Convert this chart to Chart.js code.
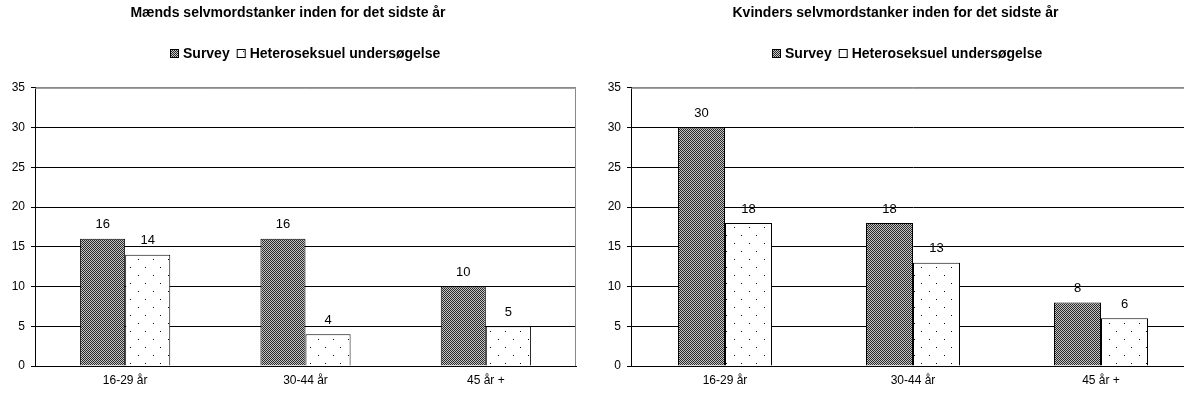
<!DOCTYPE html>
<html>
<head>
<meta charset="utf-8">
<script src="https://cdn.jsdelivr.net/npm/chart.js@4/dist/chart.umd.min.js"></script>
<style>
    html, body { margin: 0; padding: 0; background: #fff; overflow: hidden; }
    .box { position: absolute; top: 0; height: 396px; }
</style>
</head>
<body>
<div class="box" style="left:0; width:588px;"><canvas id="menChart"></canvas></div>
<div class="box" style="left:596px; width:620px;"><canvas id="womenChart"></canvas></div>
<script>
// Chart data
const categories = ['16-29 år', '30-44 år', '45 år +'];
const seriesNames = ['Survey', 'Heteroseksuel undersøgelse'];
const menSurvey = [16, 16, 10];
const menHetero = [14, 4, 5];
const womenSurvey = [30, 18, 8];
const womenHetero = [18, 13, 6];
const yTicks = [0, 5, 10, 15, 20, 25, 30, 35];

const FONT = "'Liberation Sans', Arial, sans-serif";

// Fill patterns for the two series
function checkerPattern() {
    const c = document.createElement('canvas');
    c.width = 2; c.height = 2;
    const g = c.getContext('2d');
    g.fillStyle = '#c4c4c4';
    g.fillRect(0, 0, 2, 2);
    g.fillStyle = '#2a2a2a';
    g.fillRect(0, 0, 1, 1);
    g.fillRect(1, 1, 1, 1);
    return g.createPattern(c, 'repeat');
}

function dotPattern() {
    const c = document.createElement('canvas');
    c.width = 15; c.height = 16;
    const g = c.getContext('2d');
    g.fillStyle = '#fff';
    g.fillRect(0, 0, 15, 16);
    g.fillStyle = '#111';
    g.fillRect(3, 3, 1, 1);
    g.fillRect(10, 11, 1, 1);
    return g.createPattern(c, 'repeat');
}

// Values above bars, frame and legend
const extrasPlugin = {
    id: 'extras',
    beforeDatasetsDraw(chart) {
        const { ctx, chartArea } = chart;
        ctx.save();
        ctx.strokeStyle = '#888';
        ctx.lineWidth = 1;
        ctx.beginPath();
        ctx.moveTo(chartArea.left, chartArea.top + 0.5);
        ctx.lineTo(chartArea.right - 0.5, chartArea.top + 0.5);
        ctx.lineTo(chartArea.right - 0.5, chartArea.bottom);
        ctx.stroke();
        ctx.restore();
    },
    afterDatasetsDraw(chart, args, opts) {
        const { ctx } = chart;
        ctx.save();
        ctx.font = '13px ' + FONT;
        ctx.fillStyle = '#000';
        ctx.textAlign = 'center';
        ctx.textBaseline = 'middle';
        chart.data.datasets.forEach((ds, i) => {
            chart.getDatasetMeta(i).data.forEach((bar, j) => {
                ctx.fillText(ds.data[j], bar.x, bar.y - 14);
            });
        });

        // legend
        ctx.font = 'bold 14px ' + FONT;
        ctx.textAlign = 'left';
        const items = chart.data.datasets.map(ds => ({ ds, w: ctx.measureText(ds.label).width }));
        let total = 0;
        items.forEach((it, i) => { total += 9 + 4 + it.w + (i < items.length - 1 ? 7 : 0); });
        let x = Math.round(opts.legendX - total / 2);
        const y = 53;
        items.forEach(it => {
            ctx.fillStyle = it.ds.backgroundColor;
            ctx.fillRect(x, y - 4, 9, 9);
            ctx.strokeStyle = '#000';
            ctx.lineWidth = 1;
            ctx.strokeRect(x + 0.5, y - 3.5, 8, 8);
            x += 13;
            ctx.fillStyle = '#000';
            ctx.fillText(it.ds.label, x, y + 1);
            x += it.w + 7;
        });
        ctx.restore();
    }
};

function makeChart(id, title, survey, hetero, axisWidth, padRight, legendX) {
    const ctx = document.getElementById(id).getContext('2d');
    return new Chart(ctx, {
        type: 'bar',
        data: {
            labels: categories,
            datasets: [{
                label: seriesNames[0],
                data: survey,
                backgroundColor: checkerPattern(),
                borderColor: '#000',
                borderWidth: 1
            }, {
                label: seriesNames[1],
                data: hetero,
                backgroundColor: dotPattern(),
                borderColor: '#000',
                borderWidth: 1
            }]
        },
        options: {
            responsive: true,
            maintainAspectRatio: false,
            animation: false,
            layout: {
                padding: { left: 0, right: padRight, top: 0, bottom: 8 }
            },
            datasets: {
                bar: { categoryPercentage: 0.5, barPercentage: 1 }
            },
            plugins: {
                legend: { display: false },
                tooltip: { enabled: false },
                title: {
                    display: true,
                    text: title,
                    color: '#000',
                    font: { family: FONT, size: 14, weight: 'bold' },
                    padding: { top: 5, bottom: 66 }
                },
                extras: { legendX: legendX }
            },
            scales: {
                x: {
                    afterFit(scale) { scale.height = 22; },
                    grid: { display: false, drawTicks: false },
                    border: { color: '#000' },
                    ticks: { color: '#000', padding: 7, font: { family: FONT, size: 12 } }
                },
                y: {
                    min: 0,
                    max: 35,
                    afterFit(scale) { scale.width = axisWidth; },
                    afterBuildTicks(scale) { scale.ticks = yTicks.map(v => ({ value: v })); },
                    grid: {
                        color: c => c.tick && c.tick.value === 35 ? '#888' : '#000',
                        tickLength: 4,
                        tickColor: '#000'
                    },
                    border: { color: '#000' },
                    ticks: { color: '#000', padding: 6, font: { family: FONT, size: 12 } }
                }
            }
        },
        plugins: [extrasPlugin]
    });
}

makeChart('menChart', 'Mænds selvmordstanker inden for det sidste år', menSurvey, menHetero, 35, 12, 305);
makeChart('womenChart', 'Kvinders selvmordstanker inden for det sidste år', womenSurvey, womenHetero, 35, 21, 311);
</script>
</body>
</html>
